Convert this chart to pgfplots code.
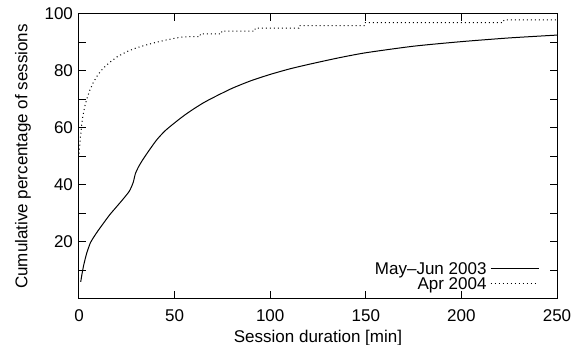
\documentclass[border=0pt]{standalone}
\usepackage{fontspec}
\setmainfont{Liberation Sans}
\usepackage{pgfplots}
\pgfplotsset{compat=1.18}
\begin{document}
\fontsize{8.5}{10}\selectfont
\begin{tikzpicture}
\begin{axis}[
  scale only axis, width=239pt, height=142.5pt,
  xmin=0, xmax=250, ymin=0, ymax=100,
  xtick={0,50,...,250},
  ytick={10,20,...,100},
  yticklabels={,20,,40,,60,,80,,100},
  /pgf/number format/assume math mode=true,
  tick label style={font=\fontsize{8.5}{10}\selectfont},
  label style={font=\fontsize{8.5}{10}\selectfont},
  major tick length=3.75pt,
  tick style={line width=0.5pt, black},
  axis line style={line width=0.5pt},
  tick align=inside,
  xticklabel style={anchor=base, yshift=-11.5pt},
  every axis x label/.style={at={(axis description cs:0.5,0)}, anchor=center, yshift=-19.5pt},
  every axis y label/.style={at={(axis description cs:0,0.5)}, xshift=-28pt, rotate=90, anchor=center},
  xlabel={Session duration [min]},
  ylabel={Cumulative percentage of sessions},
  legend cell align=right,
  legend plot pos=right,
  legend image code/.code={\draw[#1] (0pt,0.5pt) -- (24pt,0.5pt);},
  legend style={draw=none, fill=none, inner sep=0pt, outer sep=0pt,
    nodes={inner sep=0pt, text height=6.1pt, text depth=1.4pt, font=\fontsize{8.5}{10}\selectfont},
    column sep=1.75pt, row sep=0pt,
    at={(1,0)}, anchor=south east, xshift=-9pt, yshift=3.3pt},
]
\addplot[black, line width=0.5pt, smooth, tension=0.4] coordinates {
(0.9,6) (1.5,8.5) (2.5,12) (4,16) (6,19.8) (8,22) (10,24) (12.7,26.5)
(16,29.5) (19.7,32.4) (23,35) (26,37.5) (27.2,39) (28.4,41) (29.5,44) (31,46.2)
(33,48.5) (36,51.5) (40.6,55.8) (45,59) (50,61.8) (55,64.4) (60,66.7)
(65,68.8) (70,70.6) (80,73.9) (90,76.6) (100,78.8) (110,80.7) (120,82.3)
(135,84.5) (150,86.4) (175,88.7) (200,90.3) (225,91.6) (250,92.6)
};
\addlegendentry{May--Jun 2003}
\addplot[black, line width=0.5pt, dash pattern=on 0.5pt off 1.5pt] coordinates {
(0,51) (0.3,53) (0.6,56) (1,58.5) (1.5,61.5) (2,64) (3,67.5) (4,70)
(5.5,73) (7.5,76) (10,78.8) (12.7,81) (16,83) (20,85) (25,86.8) (30,88.1)
(35,89.1) (40,90) (45,90.8) (51,91.6) (55,92) (63.3,92.05) (63.5,93)
(74.5,93) (74.7,94) (92,94) (92.2,95) (115,95) (115.2,95.9) (149.6,95.9)
(149.8,97) (222,97) (222.2,97.9) (250,97.9)
};
\addlegendentry{Apr 2004}
\coordinate (SW) at (rel axis cs:0,0);
\coordinate (NE) at (rel axis cs:1,1);
\end{axis}
\pgfresetboundingbox
\path[use as bounding box] ([shift={(-39.5pt,-23pt)}]SW) rectangle ([shift={(10.5pt,7pt)}]NE);
\end{tikzpicture}
\end{document}
